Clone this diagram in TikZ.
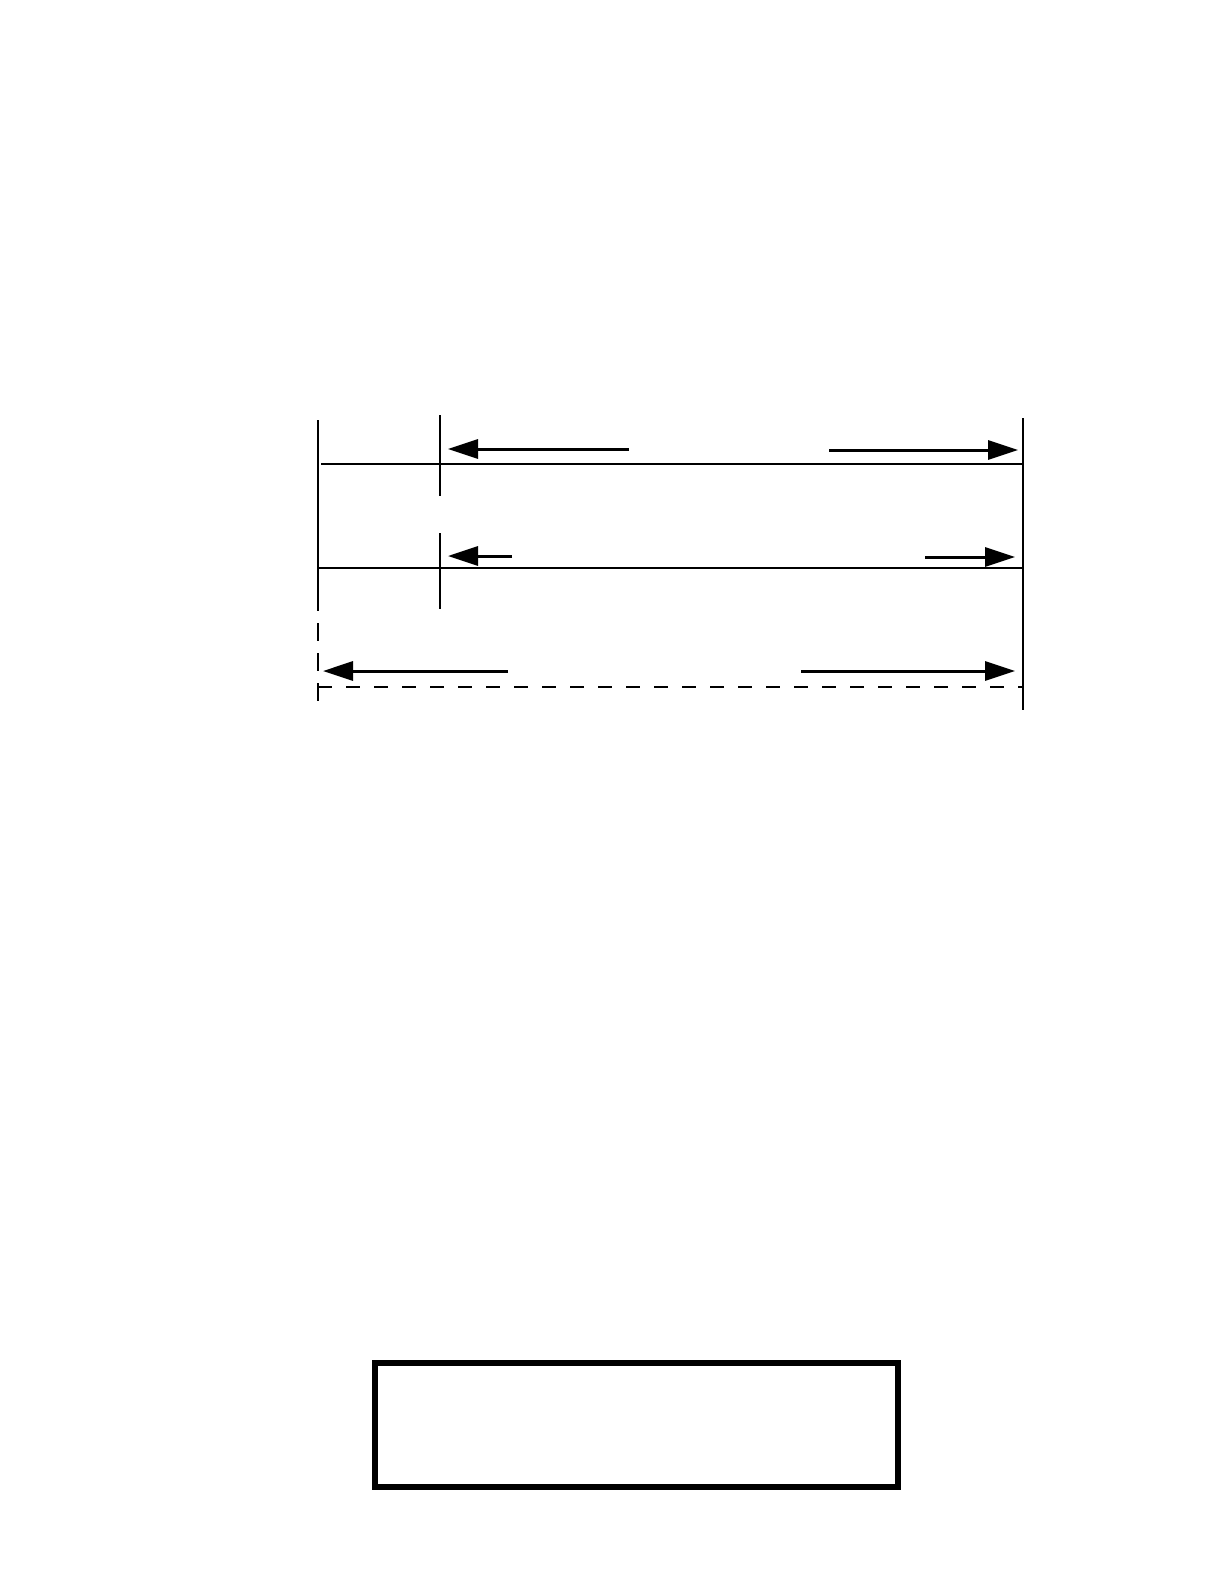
\documentclass[tikz,border=0pt]{standalone}
\usetikzlibrary{arrows.meta}
\begin{document}
\begin{tikzpicture}[x=0.5pt,y=-0.5pt,
    thin line/.style={line width=0.75pt},
    dim arrow/.style={line width=1.5pt,-{Triangle[length=15pt,width=9.5pt]}}]
            \useasboundingbox (0,0) rectangle (1224,1584);
            \draw[thin line] (318,420) -- (318,593);      % left edge
            \draw[thin line,dash pattern=on 9pt off 6pt] (318,593) -- (318,712);
            \draw[thin line] (1023,418) -- (1023,710);    % right edge
            \draw[thin line] (440,415) -- (440,496);      % upper tick
            \draw[thin line] (440,533) -- (440,609);      % lower tick
            \draw[thin line] (321,464) -- (1023,464);     % A
            \draw[thin line] (318,568) -- (1023,568);     % B
            \draw[thin line,dash pattern=on 7pt off 7pt] (318,687) -- (1023,687); % C
            \draw[dim arrow] (629,449) -- (448,449);
            \draw[dim arrow] (829,450) -- (1018,450);
            \draw[dim arrow] (512,556) -- (448,556);
            \draw[dim arrow] (925,557) -- (1015,557);
            \draw[dim arrow] (508,671) -- (323,671);
            \draw[dim arrow] (801,671) -- (1015,671);
            \draw[line width=3pt] (375,1363) rectangle (898,1487); % box
        \end{tikzpicture}
\end{document}
